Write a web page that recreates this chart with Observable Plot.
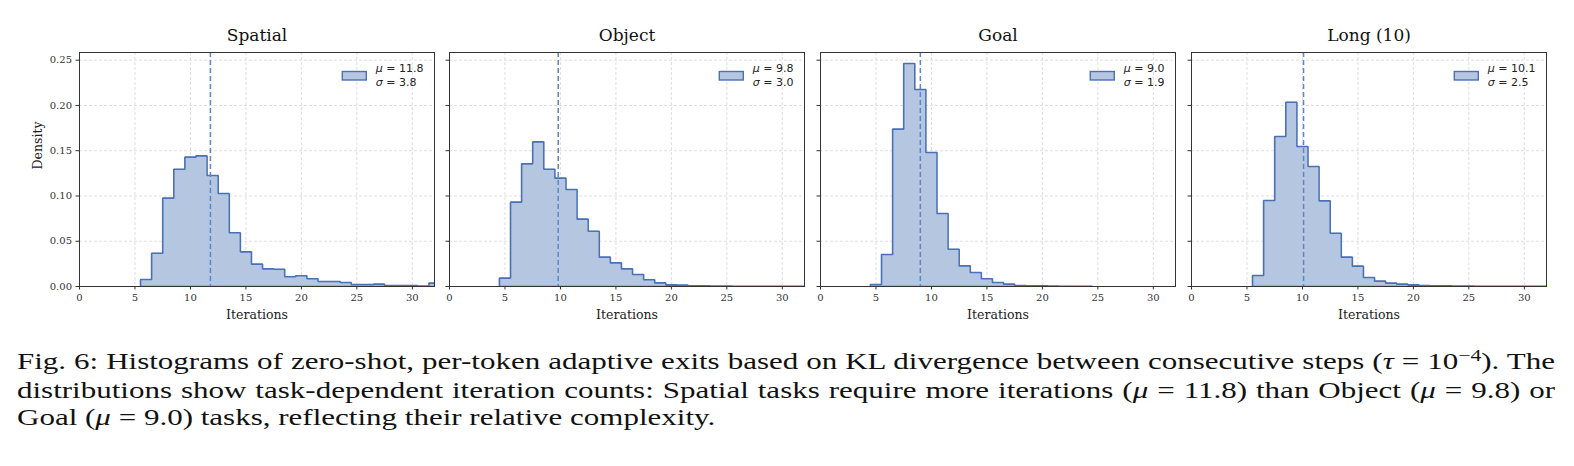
<!DOCTYPE html>
<html>
<head>
<meta charset="utf-8">
<script src="https://cdn.jsdelivr.net/npm/d3@7"></script>
<script src="https://cdn.jsdelivr.net/npm/@observablehq/plot@0.6"></script>
<style>
  html, body { margin: 0; padding: 0; background: #fff; }
  #wrap { position: relative; width: 1574px; height: 466px; overflow: hidden; }
  .panel { position: absolute; top: 0; }
  #caption { position: absolute; left: 17px; top: 348px;
    font-family: "Liberation Serif", "Times New Roman", serif; font-size: 23px; line-height: 27px; color: #111;
    transform-origin: 0 0; }
  #caption .ln { text-align: justify; text-align-last: justify; white-space: nowrap; }
  #caption .ln.last { text-align: left; text-align-last: left; }
  #caption sup { font-size: 0.7em; vertical-align: 0; position: relative; top: -0.5em; }
  #caption span.m { display: inline-block; }
</style>
</head>
<body>
<div id="wrap">
  <div id="caption">
    <div class="ln"><span class="m">Fig. 6: Histograms of zero-shot, per-token adaptive exits based on KL divergence between consecutive steps (<i>τ</i> = 10<sup>−4</sup>). The</span></div>
    <div class="ln"><span class="m">distributions show task-dependent iteration counts: Spatial tasks require more iterations (<i>μ</i> = 11.8) than Object (<i>μ</i> = 9.8) or</span></div>
    <div class="ln last"><span class="m">Goal (<i>μ</i> = 9.0) tasks, reflecting their relative complexity.</span></div>
  </div>
</div>
<script>
// ---------- data ----------
const panelTitles = ["Spatial", "Object", "Goal", "Long (10)"];
const xTicks = [0, 5, 10, 15, 20, 25, 30];
const yTicks = [0, 0.05, 0.10, 0.15, 0.20, 0.25];

const spatialIters = [6,7,8,9,10,11,12,13,14,15,16,17,18,19,20,21,22,23,24,25,26,27,28,29,30,31,32];
const spatialDensity = [0.0077,0.0368,0.0976,0.1296,0.1429,0.1443,0.1226,0.1027,0.0593,0.0383,0.0247,0.0195,0.0190,0.0107,0.0118,0.0085,0.0055,0.0055,0.0044,0.0022,0.0022,0.0026,0.0011,0.0011,0.0011,0.0004,0.0037];

const objectIters = [5,6,7,8,9,10,11,12,13,14,15,16,17,18,19,20,21,22,23,24,25,26,27,28,29,30,31,32];
const objectDensity = [0.0092,0.0932,0.1355,0.1598,0.1296,0.1197,0.1071,0.0744,0.0611,0.0324,0.0261,0.0195,0.0133,0.0074,0.0040,0.0018,0.0015,0.0007,0.0007,0.0004,0.0004,0.0003,0.0003,0.0002,0.0003,0.0002,0.0002,0.0003];

const goalIters = [5,6,7,8,9,10,11,12,13,14,15,16,17,18,19,20,21,22,23,24];
const goalDensity = [0.0022,0.0353,0.1738,0.2463,0.2176,0.1480,0.0806,0.0412,0.0228,0.0155,0.0085,0.0044,0.0026,0.0011,0.0007,0.0007,0.0004,0.0003,0.0003,0.0003];

const longIters = [6,7,8,9,10,11,12,13,14,15,16,17,18,19,20,21,22,23,24,25,26,27,28,29,30,31,32];
const longDensity = [0.0121,0.0950,0.1657,0.2036,0.1546,0.1325,0.0946,0.0589,0.0324,0.0225,0.0099,0.0059,0.0037,0.0026,0.0018,0.0011,0.0007,0.0007,0.0004,0.0004,0.0003,0.0003,0.0002,0.0002,0.0002,0.0002,0.0002];

const means = [11.8, 9.8, 9.0, 10.1];
const sigmas = [3.8, 3.0, 1.9, 2.5];

const panelIters = [spatialIters, objectIters, goalIters, longIters];
const panelDensity = [spatialDensity, objectDensity, goalDensity, longDensity];

// ---------- layout / style ----------
const frameLefts = [79, 449, 820, 1190.5];
const innerW = 355;
const H = 330, mTop = 52, mBottom = 44;
const fillColor = "#b5c6e1";
const edgeColor = "#4a71b6";
const meanColor = "#5b86cc";
const axisColor = "#333333";

function outline(iters, dens) {
  const pts = [{x: iters[0] - 0.5, y: 0}];
  iters.forEach((it, i) => {
    pts.push({x: it - 0.5, y: dens[i]});
    pts.push({x: it + 0.5, y: dens[i]});
  });
  pts.push({x: iters[iters.length - 1] + 0.5, y: 0});
  pts.push({x: iters[0] - 0.5, y: 0});
  return pts;
}

const wrap = document.getElementById("wrap");

panelTitles.forEach((title, i) => {
  const first = i === 0;
  const mL = first ? 79 : 20;
  const mR = 14;
  const pts = outline(panelIters[i], panelDensity[i]);
  const marks = [
    Plot.gridX(xTicks, {stroke: "#d6d6d6", strokeOpacity: 1, strokeDasharray: "3,2", strokeWidth: 0.8}),
    Plot.gridY(yTicks, {stroke: "#d6d6d6", strokeOpacity: 1, strokeDasharray: "3,2", strokeWidth: 0.8}),
    Plot.area(pts, {x1: "x", y1: 0, y2: "y", fill: fillColor, fillOpacity: 1, clip: true}),
    Plot.line(pts, {x: "x", y: "y", stroke: edgeColor, strokeWidth: 1.6, strokeLinejoin: "miter", clip: true}),
    Plot.ruleX([means[i]], {stroke: meanColor, strokeWidth: 1.5, strokeDasharray: "5,3"}),
    Plot.frame({stroke: axisColor, strokeWidth: 1}),
    Plot.axisX({ticks: xTicks, tickSize: 3.5, tickPadding: 3.5, label: null, stroke: axisColor, fill: axisColor}),
    Plot.axisY({ticks: yTicks, tickSize: 3.5, tickPadding: 4, label: null, stroke: axisColor, fill: axisColor,
      tickFormat: first ? d3.format(".2f") : () => ""}),
    Plot.text([title], {frameAnchor: "top", dy: -17, lineAnchor: "middle", fontSize: 17, fill: "#111"}),
    Plot.text(["Iterations"], {frameAnchor: "bottom", dy: 28, lineAnchor: "middle", fontSize: 12.5, fill: "#222"})
  ];
  if (first) {
    marks.push(Plot.text(["Density"], {frameAnchor: "left", dx: -42, rotate: -90, lineAnchor: "middle", fontSize: 12.5, fill: "#222"}));
  }
  const plot = Plot.plot({
    width: mL + innerW + mR,
    height: H,
    marginLeft: mL, marginRight: mR, marginTop: mTop, marginBottom: mBottom,
    x: {domain: [0, 32]},
    y: {domain: [0, 0.2585]},
    style: {fontFamily: "'DejaVu Serif', serif", fontSize: "10px", color: axisColor, background: "transparent", overflow: "visible"},
    marks
  });
  plot.classList.add("panel");
  plot.style.left = (frameLefts[i] - mL) + "px";
  wrap.appendChild(plot);

  // legend (upper right inside frame)
  const svg = d3.select(plot);
  const R = mL + innerW;
  const g = svg.append("g").attr("font-family", "'DejaVu Sans', sans-serif").attr("font-size", 11)
    .attr("fill", "#222").attr("text-anchor", "start").style("text-anchor", "start");
  const t1 = g.append("text").attr("y", mTop + 16).attr("dy", "0.35em");
  t1.append("tspan").attr("font-style", "italic").text("μ");
  t1.append("tspan").text(" = " + means[i].toFixed(1));
  const t2 = g.append("text").attr("y", mTop + 30).attr("dy", "0.35em");
  t2.append("tspan").attr("font-style", "italic").text("σ");
  t2.append("tspan").text(" = " + sigmas[i].toFixed(1));
  const w = Math.max(t1.node().getComputedTextLength(), t2.node().getComputedTextLength());
  const tx = R - 10.5 - w;
  t1.attr("x", tx); t2.attr("x", tx);
  svg.append("rect")
    .attr("x", tx - 9.5 - 24).attr("y", mTop + 19.5).attr("width", 24).attr("height", 8.5)
    .attr("fill", fillColor).attr("stroke", edgeColor).attr("stroke-width", 1.4);
});

// caption: serif text, widened horizontally and justified to the full width
(function () {
  const cap = document.getElementById("caption");
  const targetW = 1538;
  const spans = Array.from(cap.querySelectorAll("span.m"));
  const natural = Math.max(spans[0].getBoundingClientRect().width, spans[1].getBoundingClientRect().width);
  const s = Math.min(1.36, (targetW - 4) / natural);
  spans.forEach(sp => sp.style.display = "inline");
  cap.style.width = (targetW / s) + "px";
  cap.style.transform = "scaleX(" + s + ")";
})();
</script>
</body>
</html>
